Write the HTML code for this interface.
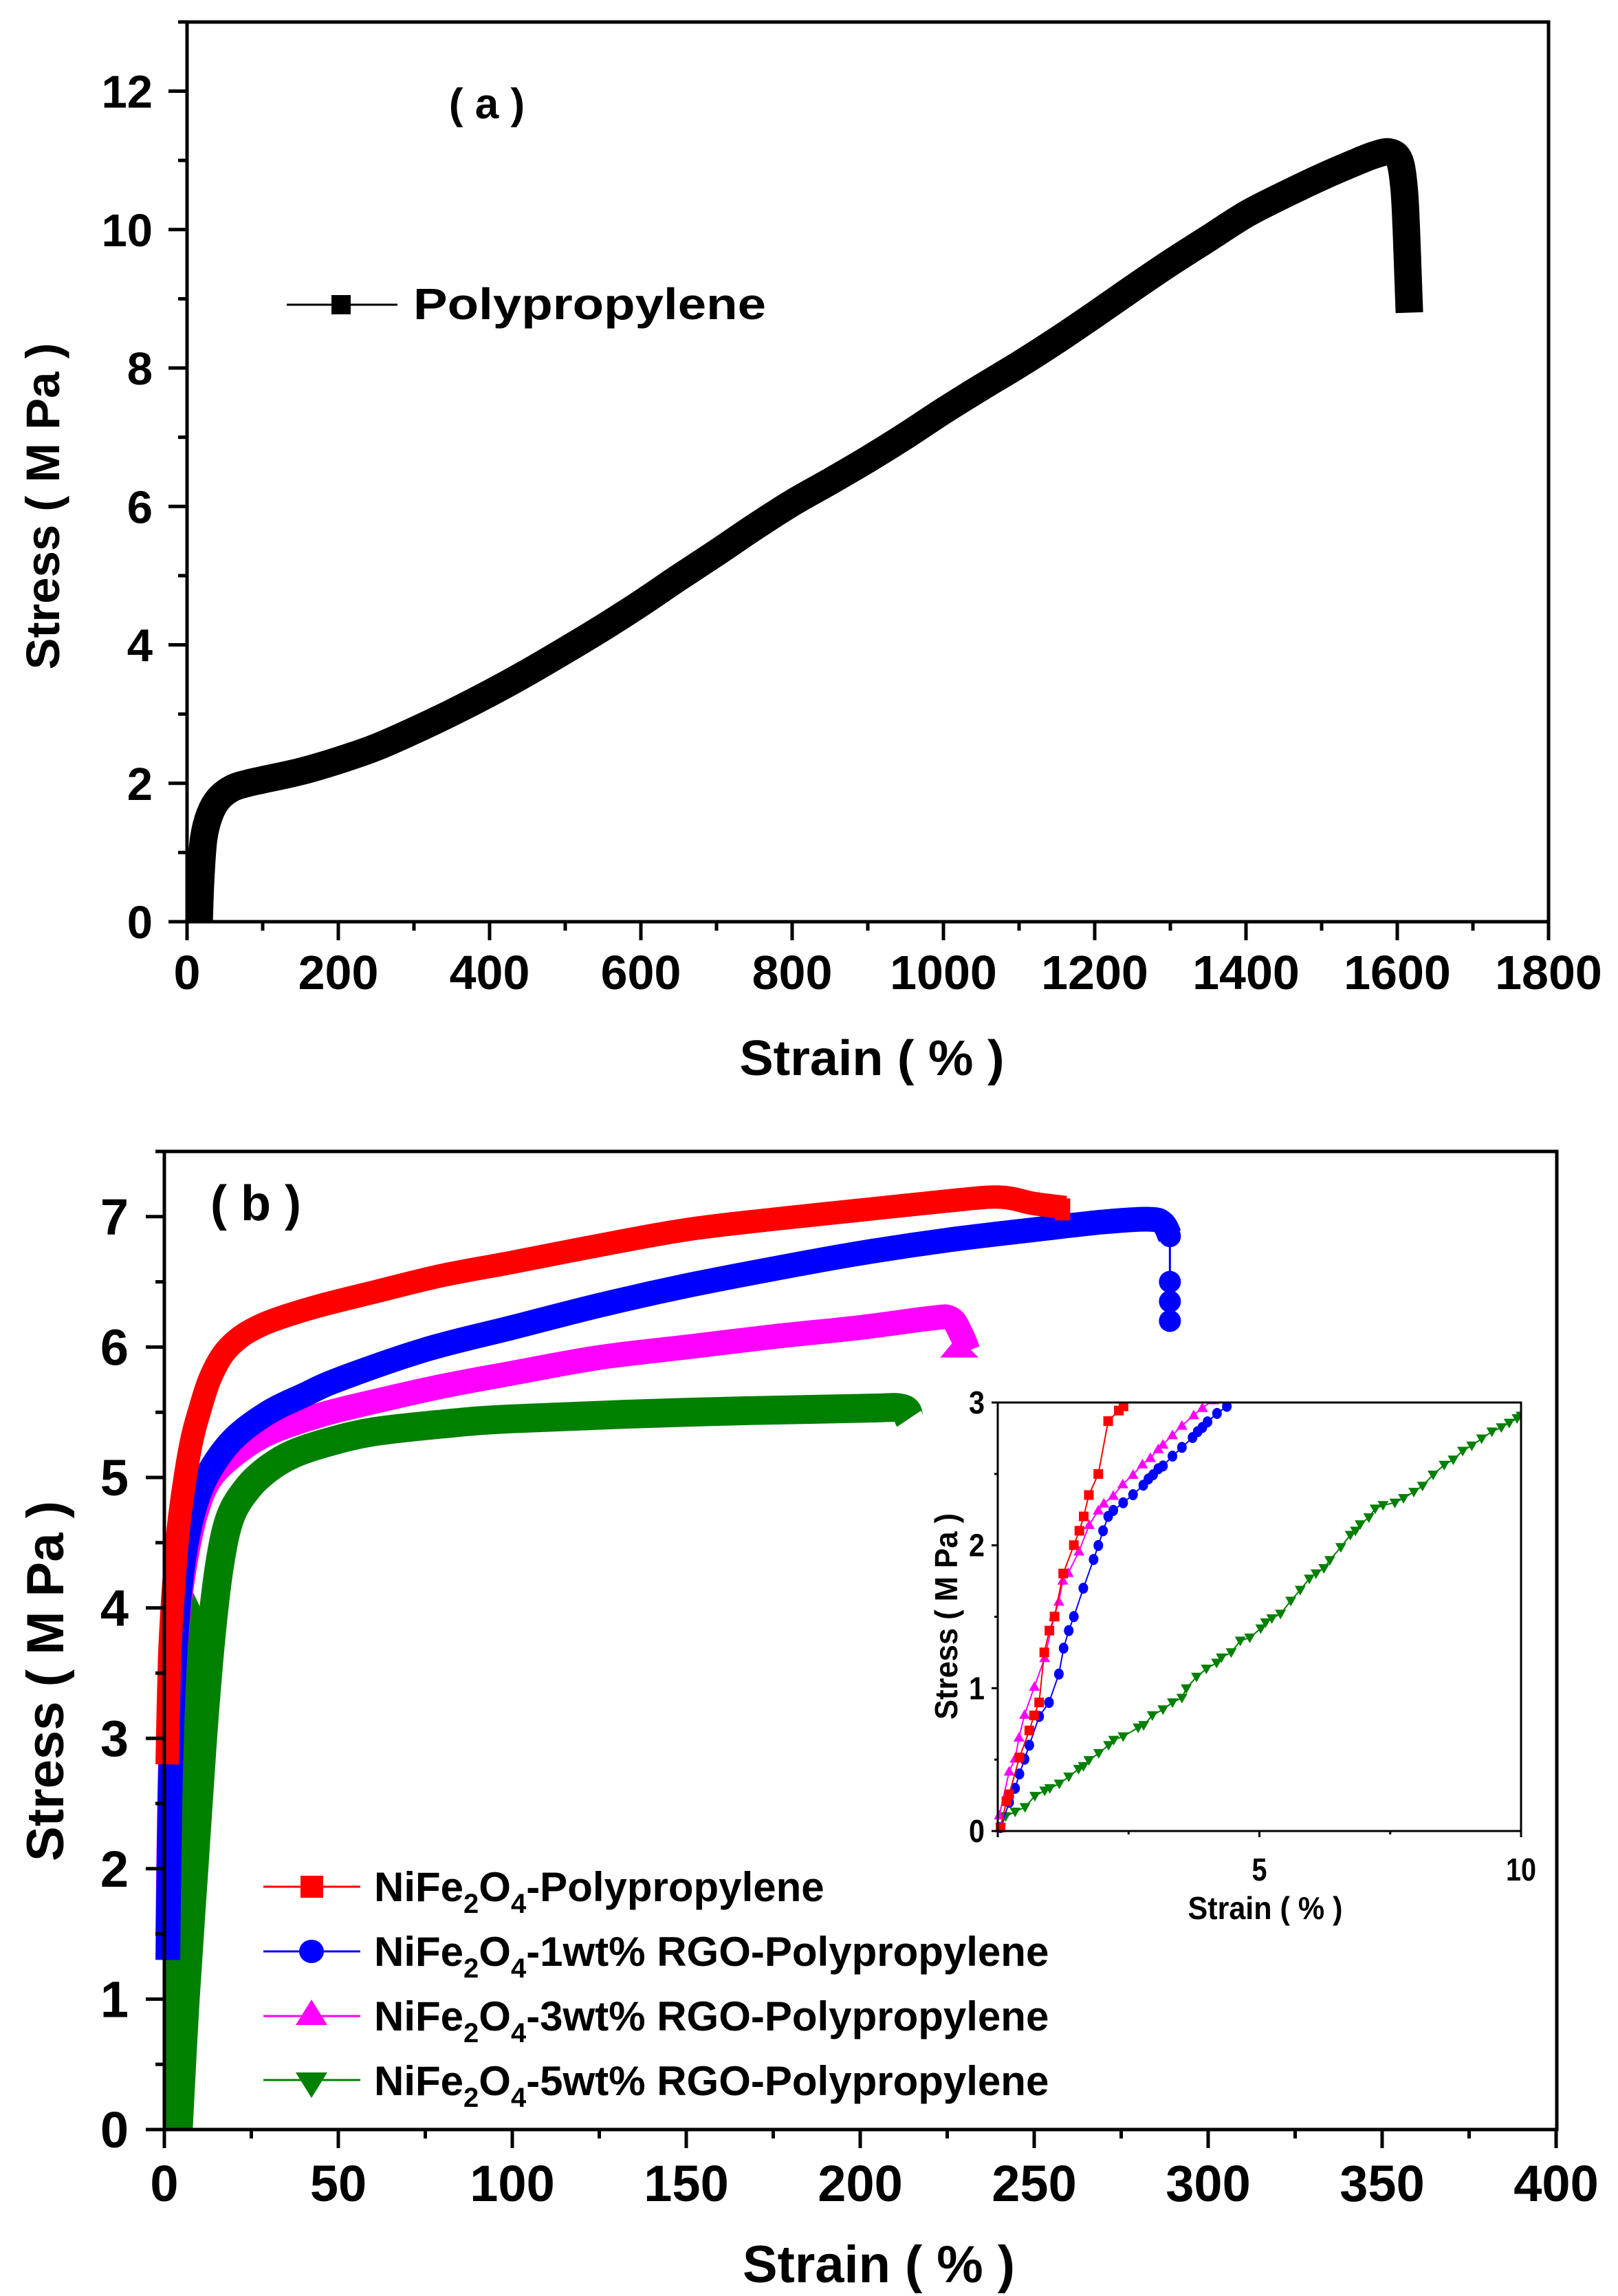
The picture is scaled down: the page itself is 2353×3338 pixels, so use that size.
<!DOCTYPE html>
<html><head><meta charset="utf-8"><style>
html,body{margin:0;padding:0;background:#fff}
svg{display:block}
text{font-family:"Liberation Sans",Arial,sans-serif;font-weight:bold;fill:#000}
</style></head><body>
<svg id="s" width="2353" height="3338" viewBox="0 0 2353 3338" xmlns="http://www.w3.org/2000/svg">
<rect width="2353" height="3338" fill="#fff"/>
<g id="a"></g>
<g id="b"></g>
<g id="ins"></g>
<text x="708" y="172" font-size="62" text-anchor="middle">( a )</text>
<text x="601" y="464" font-size="64" textLength="513" lengthAdjust="spacingAndGlyphs">Polypropylene</text>
<text x="1268" y="1563" font-size="72" text-anchor="middle" textLength="385" lengthAdjust="spacingAndGlyphs">Strain ( % )</text>
<text transform="translate(86,736) rotate(-90)" font-size="69" text-anchor="middle" textLength="475" lengthAdjust="spacingAndGlyphs">Stress ( M Pa )</text>
<text x="372" y="1774" font-size="72" text-anchor="middle">( b )</text>
<text x="1278" y="3318" font-size="76" text-anchor="middle" textLength="396" lengthAdjust="spacingAndGlyphs">Strain ( % )</text>
<text transform="translate(92,2444) rotate(-90)" font-size="76" text-anchor="middle" textLength="524" lengthAdjust="spacingAndGlyphs">Stress ( M Pa )</text>
<g font-size="60">
<text x="544" y="2764">NiFe<tspan font-size="40" dy="17">2</tspan><tspan dy="-17">O</tspan><tspan font-size="40" dy="17">4</tspan><tspan dy="-17">-Polypropylene</tspan></text>
<text x="544" y="2858">NiFe<tspan font-size="40" dy="17">2</tspan><tspan dy="-17">O</tspan><tspan font-size="40" dy="17">4</tspan><tspan dy="-17">-1wt% RGO-Polypropylene</tspan></text>
<text x="544" y="2952">NiFe<tspan font-size="40" dy="17">2</tspan><tspan dy="-17">O</tspan><tspan font-size="40" dy="17">4</tspan><tspan dy="-17">-3wt% RGO-Polypropylene</tspan></text>
<text x="544" y="3046">NiFe<tspan font-size="40" dy="17">2</tspan><tspan dy="-17">O</tspan><tspan font-size="40" dy="17">4</tspan><tspan dy="-17">-5wt% RGO-Polypropylene</tspan></text>
</g>
<line x1="383" y1="2743" x2="524" y2="2743" stroke="#f00" stroke-width="3"/>
<rect x="437" y="2727" width="33" height="32" fill="#f00"/>
<line x1="383" y1="2837" x2="524" y2="2837" stroke="#00f" stroke-width="3"/>
<ellipse cx="453" cy="2837" rx="18" ry="17" fill="#00f"/>
<line x1="383" y1="2931" x2="524" y2="2931" stroke="#f0f" stroke-width="3"/>
<polygon points="453,2907 476,2944 430,2944" fill="#f0f"/>
<line x1="383" y1="3024" x2="524" y2="3024" stroke="#008000" stroke-width="3"/>
<polygon points="430,3013 476,3013 453,3050" fill="#008000"/>
<text transform="translate(1392,2350) rotate(-90)" font-size="46" text-anchor="middle" textLength="300" lengthAdjust="spacingAndGlyphs">Stress ( M Pa )</text>
<text x="1840" y="2790" font-size="46" text-anchor="middle" textLength="225" lengthAdjust="spacingAndGlyphs">Strain ( % )</text>
</svg>
<script>
var NS="http://www.w3.org/2000/svg";
function el(p,t,a){var e=document.createElementNS(NS,t);for(var k in a)e.setAttribute(k,a[k]);p.appendChild(e);return e;}
function txt(p,x,y,s,fs,anc,extra){var e=el(p,"text",Object.assign({x:x,y:y,"font-size":fs,"text-anchor":anc},extra||{}));e.textContent=s;return e;}
function smooth(P){
 var d="M"+P[0][0]+","+P[0][1];
 for(var i=0;i<P.length-1;i++){var p0=P[i-1]||P[i],p1=P[i],p2=P[i+1],p3=P[i+2]||p2;
  d+=" C"+(p1[0]+(p2[0]-p0[0])/6)+","+(p1[1]+(p2[1]-p0[1])/6)+" "+(p2[0]-(p3[0]-p1[0])/6)+","+(p2[1]-(p3[1]-p1[1])/6)+" "+p2[0]+","+p2[1];}
 return d;}
(function(){
var g=document.getElementById("a");
var X=function(v){return 272+v*1.1}, Y=function(v){return 1340-v*100.62};
var pts=[[16,0],[18,0.6],[22,1.2],[30,1.55],[42,1.78],[60,1.93],[80,2.0],[100,2.05],[150,2.17],[200,2.33],[250,2.52],[300,2.76],[350,3.02],[400,3.3],[450,3.6],[500,3.92],[550,4.25],[600,4.6],[650,4.97],[700,5.33],[750,5.7],[800,6.05],[850,6.36],[900,6.68],[950,7.02],[1000,7.38],[1050,7.72],[1100,8.05],[1150,8.4],[1200,8.77],[1250,9.15],[1300,9.52],[1350,9.87],[1400,10.22],[1450,10.5],[1500,10.76],[1540,10.95],[1570,11.08],[1590,11.12],[1603,11.0],[1609,10.6],[1612,10.0],[1614,9.4],[1616,8.8]];
el(g,"path",{d:smooth(pts.map(function(p){return [X(p[0]),Y(p[1])]})),fill:"none",stroke:"#000","stroke-width":40,"stroke-linejoin":"round","stroke-linecap":"butt"});
el(g,"line",{x1:417,y1:443,x2:578,y2:443,stroke:"#000","stroke-width":3});
el(g,"rect",{x:482,y:429,width:28,height:28,fill:"#000"});
el(g,"rect",{x:272,y:32,width:1980,height:1308,fill:"none",stroke:"#000","stroke-width":5});
for(var v=0;v<=13;v++){var y=Y(v);var maj=(v%2==0);el(g,"line",{x1:272,y1:y,x2:272-(maj?27:13),y2:y,stroke:"#000","stroke-width":5});
 if(maj)txt(g,222,y+24,String(v),67,"end");}
for(var v=0;v<=1800;v+=100){var x=X(v);var maj=(v%200==0);el(g,"line",{x1:x,y1:1340,x2:x,y2:1340+(maj?27:13),stroke:"#000","stroke-width":5});
 if(maj)txt(g,x,1438,String(v),70,"middle");}
})();
(function(){
var g=document.getElementById("b");
var X=function(v){return 239+v*5.06}, Y=function(v){return 3096-v*189.6};
function band(pts,c,w){el(g,"path",{d:smooth(pts.map(function(p){return [X(p[0]),Y(p[1])]})),fill:"none",stroke:c,"stroke-width":w,"stroke-linejoin":"round","stroke-linecap":"butt"});}
el(g,"polygon",{points:[[0.3,0],[5,0],[7,1],[9.5,2],[12,3],[14,3.8],[5,4.3],[1,3.5],[0.3,2]].map(function(p){return X(p[0])+","+Y(p[1])}).join(" "),fill:"#008000"});
band([[4,0],[6,1],[8.5,2],[11,3],[13.5,3.8],[16,4.35],[19,4.7],[24,4.92],[30,5.07],[37,5.18],[47,5.27],[60,5.35],[80,5.41],[100,5.45],[150,5.5],[200,5.53],[212,5.53],[214,5.45]],"#008000",42);
band([[1,1.5],[1.6,2.6],[2.6,3.4],[4,3.95],[6,4.35],[9,4.72],[13,4.98],[20,5.17],[30,5.34],[45,5.48],[60,5.58],[80,5.7],[100,5.8],[125,5.92],[150,6.0],[175,6.08],[200,6.15],[220,6.22],[226,6.22],[229,6.1],[231,5.97]],"#f0f",36);
band([[1,1.3],[1.6,2.5],[2.6,3.4],[4,4.0],[6,4.45],[9,4.8],[13,5.05],[20,5.3],[30,5.5],[40,5.63],[50,5.75],[75,5.98],[100,6.15],[125,6.32],[150,6.47],[175,6.6],[200,6.72],[225,6.82],[250,6.9],[270,6.96],[283,6.98],[287,6.95],[289,6.85]],"#00f",36);
band([[0.8,2.8],[1.5,3.6],[2.5,4.1],[4,4.6],[6,5.0],[8,5.3],[10,5.5],[13,5.75],[17,5.95],[22,6.08],[28,6.17],[35,6.24],[45,6.32],[60,6.42],[80,6.55],[100,6.65],[125,6.78],[150,6.9],[175,6.98],[200,7.05],[225,7.12],[240,7.15],[250,7.1],[259,7.07]],"#f00",34);
el(g,"line",{x1:X(289),y1:Y(6.85),x2:X(289),y2:Y(6.2),stroke:"#00f","stroke-width":3});
[6.5,6.35,6.2,6.85].forEach(function(v){el(g,"circle",{cx:X(289),cy:Y(v),r:16,fill:"#00f"});});
el(g,"rect",{x:X(256),y:Y(7.14),width:22,height:32,fill:"#f00"});
el(g,"polygon",{points:[X(228)+","+Y(6.08),X(234)+","+Y(5.92),X(223)+","+Y(5.92)].join(" "),fill:"#f0f"});
el(g,"rect",{x:239,y:1674,width:2025,height:1422,fill:"none",stroke:"#000","stroke-width":5});
for(var i=0;i<=15;i++){var v=i/2,y=Y(v),maj=(i%2==0);el(g,"line",{x1:239,y1:y,x2:239-(maj?27:13),y2:y,stroke:"#000","stroke-width":5});
 if(maj)txt(g,187,y+26,String(v),74,"end");}
for(var v=0;v<=400;v+=25){var x=X(v),maj=(v%50==0);el(g,"line",{x1:x,y1:3096,x2:x,y2:3096+(maj?27:13),stroke:"#000","stroke-width":5});
 if(maj)txt(g,x,3200,String(v),74,"middle");}
})();
(function(){
var g=document.getElementById("ins");
var L=1451,R=2212,T=2039,B=2662;
var X=function(v){return L+v*(R-L)/10}, Y=function(v){return B-v*(B-T)/3};
el(g,"rect",{x:L,y:T,width:R-L,height:B-T,fill:"#fff"});
var clip=el(g,"clipPath",{id:"ic"});el(clip,"rect",{x:L-12,y:T,width:R-L+12,height:B-T+12});
var gg=el(g,"g",{"clip-path":"url(#ic)"});
function conv(a){return a.map(function(p){return [(p[0]-193)/132.7,(1300-p[1])/407.7];});}
var red=conv([[200,1290],[215,1215],[222,1195],[248,1090],[273,1013],[285,970],[298,933],[311,790],[324,728],[337,688],[359,565],[386,484],[400,443],[411,402],[424,341],[448,281],[473,130],[500,100],[512,88]]);
var pink=conv([[197,1255],[222,1130],[237,1093],[247,1033],[261,968],[286,888],[312,806],[336,687],[348,645],[358,585],[372,563],[399,502],[425,426],[448,385],[462,365],[486,343],[510,310],[536,283],[560,253],[580,235],[600,210],[612,197],[636,170],[660,143],[690,113],[712,92],[740,70]]);
var blue=conv([[200,1290],[222,1218],[237,1178],[248,1137],[261,1095],[273,1055],[298,973],[323,933],[348,852],[360,778],[373,728],[386,688],[410,607],[436,525],[448,485],[460,443],[473,402],[486,385],[511,363],[536,340],[562,313],[575,295],[587,283],[600,266],[612,258],[636,230],[660,205],[687,177],[700,160],[712,148],[725,132],[749,108],[774,88]]);
var green=conv([[200,1290],[213,1258],[237,1245],[262,1232],[287,1200],[312,1185],[325,1178],[349,1165],[373,1145],[398,1123],[410,1115],[424,1098],[449,1078],[474,1055],[487,1040],[511,1030],[549,1005],[563,998],[585,970],[612,953],[636,933],[660,920],[671,893],[697,860],[722,837],[748,820],[760,805],[785,790],[808,757],[832,748],[860,722],[872,705],[888,693],[910,680],[936,643],[960,612],[983,580],[1000,565],[1020,550],[1035,527],[1063,490],[1087,455],[1100,443],[1112,425],[1134,405],[1150,380],[1170,370],[1200,363],[1222,350],[1248,332],[1270,315],[1297,283],[1325,255],[1348,240],[1372,215],[1395,200],[1420,180],[1446,160],[1470,148],[1490,135],[1510,122],[1520,115]]);
function series(d,c,mk){
 el(gg,"polyline",{points:d.map(function(p){return X(p[0])+","+Y(p[1])}).join(" "),fill:"none",stroke:c,"stroke-width":2});
 d.forEach(function(p){var x=X(p[0]),y=Y(p[1]);
  if(mk=="s")el(gg,"rect",{x:x-7,y:y-7,width:14,height:14,fill:c});
  else if(mk=="c")el(gg,"ellipse",{cx:x,cy:y,rx:7,ry:8,fill:c});
  else if(mk=="u")el(gg,"polygon",{points:x+","+(y-8)+" "+(x+8)+","+(y+6)+" "+(x-8)+","+(y+6),fill:c});
  else el(gg,"polygon",{points:(x-8)+","+(y-6)+" "+(x+8)+","+(y-6)+" "+x+","+(y+8),fill:c});});
}
series(green,"#008000","d");
series(blue,"#00f","c");
series(pink,"#f0f","u");
series(red,"#f00","s");
el(g,"rect",{x:L,y:T,width:R-L,height:B-T,fill:"none",stroke:"#000","stroke-width":3});
for(var i=0;i<=6;i++){var v=i/2,y=Y(v),maj=(i%2==0);el(g,"line",{x1:L,y1:y,x2:L-(maj?9:5),y2:y,stroke:"#000","stroke-width":3});
 if(maj)txt(g,1432,y+16,String(v),46,"end",{textLength:23,lengthAdjust:"spacingAndGlyphs"});}
for(var i=0;i<=4;i++){var v=i*2.5,x=X(v),maj=(i%2==0);el(g,"line",{x1:x,y1:B,x2:x,y2:B+(maj?9:5),stroke:"#000","stroke-width":3});
 if(maj&&v>0)txt(g,x,2734,String(v),46,"middle",{textLength:v>=10?44:22,lengthAdjust:"spacingAndGlyphs"});}
})();
</script>
</body></html>
